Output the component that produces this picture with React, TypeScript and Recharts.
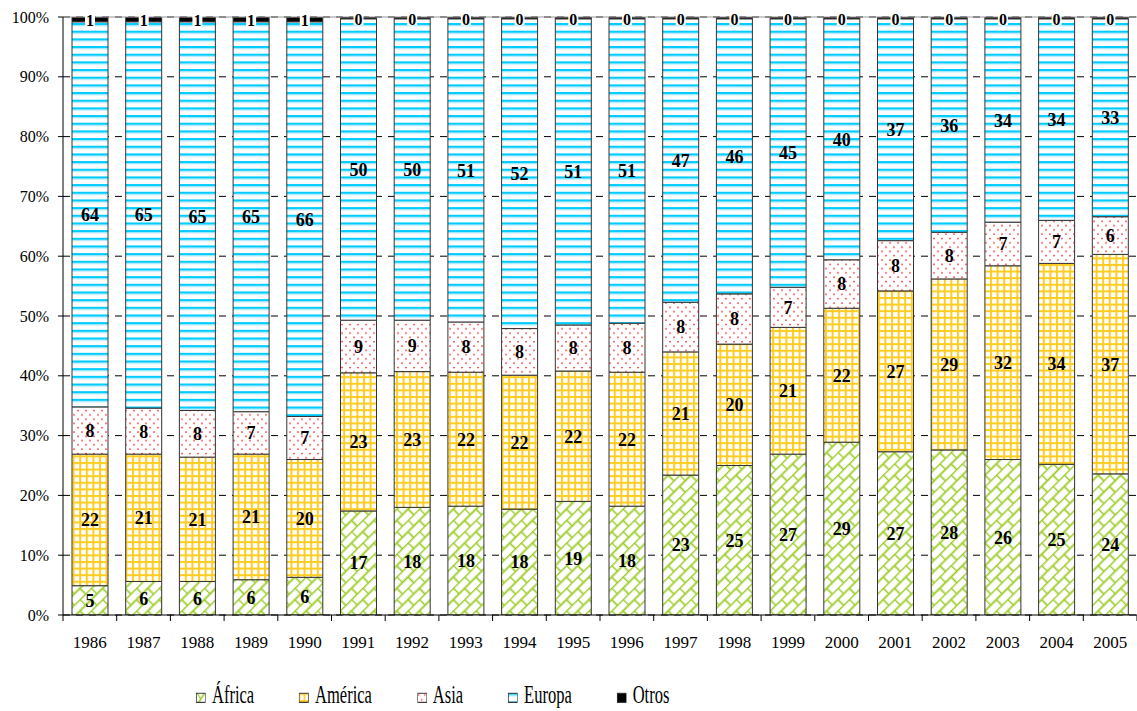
import { BarChart, Bar, XAxis, YAxis, CartesianGrid, Legend, LabelList, ReferenceLine } from 'recharts';

const years = [
  '1986', '1987', '1988', '1989', '1990', '1991', '1992', '1993', '1994', '1995',
  '1996', '1997', '1998', '1999', '2000', '2001', '2002', '2003', '2004', '2005',
];

// shares in % (labels show the rounded values)
const africa = [4.9, 5.6, 5.6, 5.9, 6.3, 17.4, 18.0, 18.2, 17.7, 19.0, 18.2, 23.4, 25.0, 26.9, 28.9, 27.3, 27.6, 26.0, 25.2, 23.6];
const america = [22.0, 21.3, 20.8, 21.0, 19.7, 23.1, 22.7, 22.4, 22.4, 21.8, 22.4, 20.6, 20.3, 21.2, 22.4, 26.9, 28.6, 32.4, 33.6, 36.7];
const asia = [7.9, 7.7, 7.8, 7.1, 7.2, 8.8, 8.6, 8.4, 7.8, 7.7, 8.2, 8.3, 8.4, 6.7, 8.1, 8.4, 7.8, 7.3, 7.2, 6.3];
const europa = [64.4, 64.6, 65.0, 65.2, 66.0, 50.4, 50.4, 50.7, 51.8, 51.2, 50.9, 47.4, 46.0, 44.9, 40.3, 37.1, 35.7, 34.0, 33.7, 33.1];
const otros = [0.8, 0.8, 0.8, 0.8, 0.8, 0.3, 0.3, 0.3, 0.3, 0.3, 0.3, 0.3, 0.3, 0.3, 0.3, 0.3, 0.3, 0.3, 0.3, 0.3];

const yTicks = [0, 10, 20, 30, 40, 50, 60, 70, 80, 90, 100];

const series = [
  { key: 'africa', name: 'África', fill: 'url(#pAfrica)' },
  { key: 'america', name: 'América', fill: 'url(#pAmerica)' },
  { key: 'asia', name: 'Asia', fill: 'url(#pAsia)' },
  { key: 'europa', name: 'Europa', fill: 'url(#pEuropa)' },
  { key: 'otros', name: 'Otros', fill: '#000' },
];

const data = years.map((year, i) => ({
  year,
  africa: africa[i],
  america: america[i],
  asia: asia[i],
  europa: europa[i],
  otros: otros[i],
}));

const FONT = '"Liberation Serif", "Times New Roman", serif';
const HALF_BAND = 26.85;

const YearTick = (props: any) => {
  const { x, y, payload, index } = props;
  return (
    <g>
      <line x1={x - HALF_BAND} x2={x - HALF_BAND} y1={y} y2={y + 6} stroke="#000" />
      {index === years.length - 1 && (
        <line x1={x + HALF_BAND} x2={x + HALF_BAND} y1={y} y2={y + 6} stroke="#000" />
      )}
      <text x={x} y={y + 33} textAnchor="middle" fontFamily={FONT} fontSize={17} fill="#000">
        {payload.value}
      </text>
    </g>
  );
};

const OtrosLabel = (props: any) => {
  const vb = props.viewBox ?? props;
  const cx = vb.x + vb.width / 2;
  const cy = vb.y + vb.height / 2 + 1.5;
  return (
    <g>
      <rect x={cx - 5} y={cy - 6} width={10} height={12} fill="#fff" />
      <text x={cx} y={cy} dy="0.35em" textAnchor="middle" fontFamily={FONT} fontSize={16} fontWeight="bold" fill="#000">
        {Math.round(Number(props.value))}
      </text>
    </g>
  );
};

const renderLegend = () => (
  <div
    style={{
      height: 50,
      display: 'flex',
      alignItems: 'flex-end',
      transform: 'scale(0.75, 1.15)',
      transformOrigin: 'left bottom',
      fontFamily: FONT,
      fontSize: 22,
      whiteSpace: 'nowrap',
      color: '#000',
    }}
  >
    {series.map((s) => (
      <span key={s.key} style={{ marginRight: 60, lineHeight: '22px', paddingBottom: 3 }}>
        <svg width={13.3} height={9} style={{ verticalAlign: 'baseline', marginRight: 8 }}>
          <rect x={0.5} y={0.5} width={12.3} height={8} fill={s.fill} stroke="#333" />
        </svg>
        {s.name}
      </span>
    ))}
  </div>
);

export default function App() {
  return (
    <div style={{ position: 'absolute', left: 0, top: 0 }}>
      <BarChart
        width={1137}
        height={711}
        data={data}
        margin={{ top: 17, right: 0, bottom: 0, left: 0 }}
      >
        <defs>
          <pattern id="pAfrica" width="16" height="16" patternUnits="userSpaceOnUse" patternTransform="rotate(-45)">
            <rect width="16" height="16" fill="#fff" />
            <path d="M0 0.5 H16 M0 8.5 H16 M0.5 0.5 V8.5 M8.5 8.5 V16.5" stroke="#e0f0b8" strokeWidth="2.6" fill="none" />
            <path d="M0 0.5 H16 M0 8.5 H16 M0.5 0.5 V8.5 M8.5 8.5 V16.5" stroke="#9ccc2a" strokeWidth="1.3" fill="none" />
          </pattern>
          <pattern id="pAmerica" width="6.6" height="6.6" patternUnits="userSpaceOnUse">
            <rect width="6.6" height="6.6" fill="#fff" />
            <rect x="0" y="0" width="2" height="6.6" fill="#ffcc22" />
            <rect x="0" y="0" width="6.6" height="2" fill="#ffcc22" />
          </pattern>
          <pattern id="pAsia" width="8" height="8.6" patternUnits="userSpaceOnUse">
            <rect width="8" height="8.6" fill="#fff" />
            <circle cx="2" cy="2" r="0.9" fill="#ff2a2a" />
            <circle cx="6" cy="6.3" r="0.9" fill="#ff2a2a" />
          </pattern>
          <pattern id="pEuropa" width="8" height="7.67" patternUnits="userSpaceOnUse">
            <rect width="8" height="7.67" fill="#fff" />
            <rect y="0" width="8" height="2" fill="#00ccff" />
            <rect y="2" width="8" height="1.2" fill="#99e6ff" />
          </pattern>
        </defs>
        <CartesianGrid vertical={false} stroke="#000" strokeDasharray="7 6" />
        <XAxis
          dataKey="year"
          height={46}
          axisLine={{ stroke: '#000' }}
          tickLine={false}
          tickSize={0}
          tickMargin={0}
          interval={0}
          tick={<YearTick />}
        />
        <YAxis
          width={63}
          domain={[0, 100]}
          allowDataOverflow
          ticks={yTicks}
          tickFormatter={(v) => `${v}%`}
          axisLine={{ stroke: '#000' }}
          tickLine={{ stroke: '#000' }}
          tickSize={5}
          tickMargin={9}
          tick={{ fontFamily: FONT, fontSize: 16, fill: '#000' }}
        />
        <ReferenceLine y={100} stroke="#999" />
        {series.map((s) => (
          <Bar
            key={s.key}
            dataKey={s.key}
            name={s.name}
            stackId="s"
            fill={s.fill}
            stroke="#333"
            strokeWidth={1}
            barSize={36}
            isAnimationActive={false}
          >
            {s.key === 'otros' ? (
              <LabelList dataKey={s.key} content={<OtrosLabel />} />
            ) : (
              <LabelList
                dataKey={s.key}
                position="center"
                formatter={(v: any) => Math.round(Number(v))}
                fill="#000"
                fontFamily={FONT}
                fontSize={18}
                fontWeight="bold"
              />
            )}
          </Bar>
        ))}
        <Legend
          verticalAlign="bottom"
          content={renderLegend}
          wrapperStyle={{ left: 196, width: 640, bottom: 0 }}
        />
      </BarChart>
    </div>
  );
}
